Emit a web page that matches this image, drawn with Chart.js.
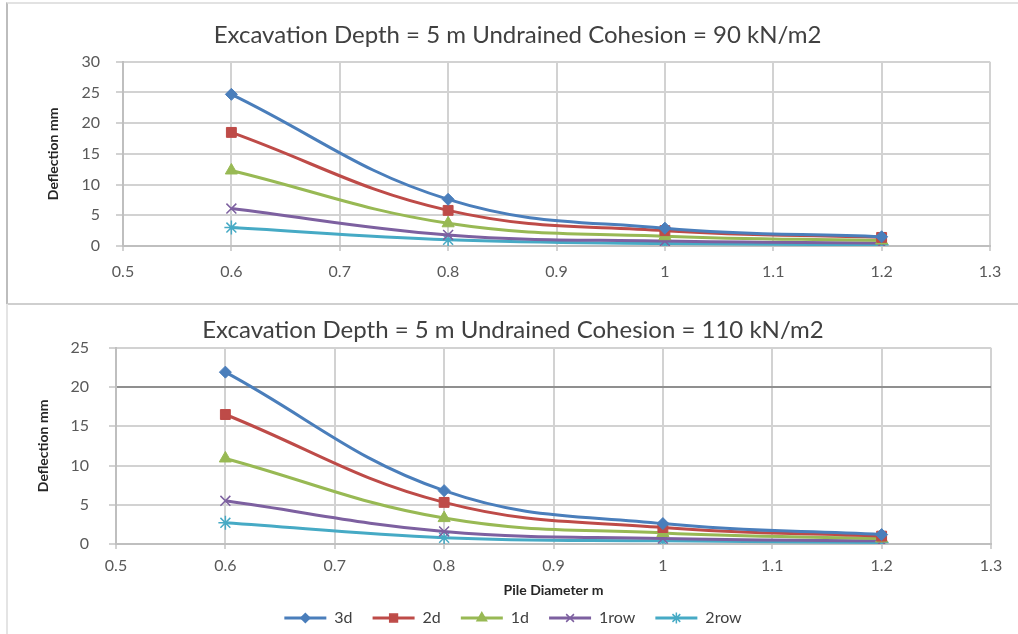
<!DOCTYPE html>
<html><head><meta charset="utf-8">
<script src="https://cdn.jsdelivr.net/npm/chart.js@4.4.0/dist/chart.umd.min.js"></script>
<style>
html,body{margin:0;padding:0;background:#fff;}
#wrap{position:relative;width:1018px;height:634px;overflow:hidden;background:#fff;}
#box1{position:absolute;left:6px;top:2px;width:1020px;height:299px;border-left:2px solid #bdbdbd;border-top:2px solid #e2e2e2;border-bottom:2px solid #cfcfcf;}
#box2{position:absolute;left:6px;top:304px;width:2px;height:330px;background:#e4e4e4;}
#c1{position:absolute;left:0;top:0;}
#c2{position:absolute;left:0;top:305px;}
</style></head>
<body><div id="wrap"><div id="box1"></div><div id="box2"></div>
<canvas id="c1" width="1018" height="302"></canvas>
<canvas id="c2" width="1018" height="331"></canvas>
</div>
<script>
// ---- data ----
const pileDiameter = [0.6, 0.8, 1.0, 1.2];
const seriesNames = ['3d', '2d', '1d', '1row', '2row'];
const xTickLabels = ['0.5', '0.6', '0.7', '0.8', '0.9', '1', '1.1', '1.2', '1.3'];
const yTicksTop = ['0', '5', '10', '15', '20', '25', '30'];
const yTicksBottom = ['0', '5', '10', '15', '20', '25'];
const titleTop = 'Excavation Depth = 5 m Undrained Cohesion = 90 kN/m2';
const titleBottom = 'Excavation Depth = 5 m Undrained Cohesion = 110 kN/m2';
const xAxisTitle = 'Pile Diameter m';
const yAxisTitle = 'Deflection mm';

// Cohesion 90 kN/m2
const c90_3d   = [24.7, 7.6, 2.9, 1.5];
const c90_2d   = [18.5, 5.8, 2.5, 1.4];
const c90_1d   = [12.3, 3.7, 1.6, 0.9];
const c90_1row = [6.1, 1.8, 0.8, 0.5];
const c90_2row = [3.0, 1.0, 0.4, 0.2];
// Cohesion 110 kN/m2
const c110_3d   = [21.9, 6.8, 2.6, 1.2];
const c110_2d   = [16.5, 5.3, 2.1, 1.0];
const c110_1d   = [10.9, 3.3, 1.4, 0.7];
const c110_1row = [5.5, 1.6, 0.7, 0.4];
const c110_2row = [2.7, 0.8, 0.4, 0.2];

// ---- styles ----
const colors = ['#4A7EBB', '#BE4B48', '#98B954', '#7D60A0', '#46AAC5'];
const pointStyles = ['rectRot', 'rect', 'triangle', 'crossRot', 'star'];
const pointRadii = [6, 7, 7, 7, 7];
const FONT = 'Lato, "Open Sans", sans-serif';
const GRID = '#d2d2d2';

function makeDatasets(arrs) {
  return arrs.map((vals, i) => ({
    label: seriesNames[i],
    data: vals.map((v, j) => ({x: pileDiameter[j], y: v})),
    borderColor: colors[i],
    backgroundColor: colors[i],
    pointBackgroundColor: colors[i],
    pointBorderColor: colors[i],
    pointStyle: pointStyles[i],
    pointRadius: pointRadii[i],
    pointBorderWidth: (i >= 3) ? 1.5 : 1,
    borderWidth: 3,
    tension: 0.4,
    fill: false
  }));
}

const legendMarkers = {
  id: 'legendMarkers',
  afterDraw(chart) {
    const lg = chart.legend;
    if (!lg || !lg.options.display || !lg.legendHitBoxes || !Chart.helpers) return;
    const ctx = chart.ctx;
    const bw = lg.options.labels.boxWidth;
    const fs = lg.options.labels.font.size;
    lg.legendHitBoxes.forEach((hb, i) => {
      const ds = chart.data.datasets[i];
      ctx.save();
      ctx.fillStyle = ds.pointBackgroundColor;
      ctx.strokeStyle = ds.pointBorderColor;
      ctx.lineWidth = 1.5;
      Chart.helpers.drawPoint(ctx, {pointStyle: ds.pointStyle, radius: ds.pointRadius - 1.5, rotation: 0, borderWidth: 1.5}, hb.left + bw / 2, hb.top + fs / 2);
      ctx.restore();
    });
  }
};

function makeChart(canvas, cfg) {
  return new Chart(canvas, {
    type: 'line',
    data: {datasets: makeDatasets(cfg.series)},
    plugins: [legendMarkers],
    options: {
      responsive: false,
      animation: false,
      devicePixelRatio: 1,
      layout: {padding: cfg.layoutPadding},
      plugins: {
        tooltip: {enabled: false},
        title: {
          display: true, text: cfg.title, color: '#404040',
          font: {family: FONT, size: 24, weight: 'normal'},
          padding: cfg.titlePadding
        },
        legend: {
          display: cfg.legend, position: 'bottom',
          labels: {
            boxWidth: 42, boxHeight: 3, padding: 20, color: '#404040',
            font: {family: FONT, size: 16},
            generateLabels(chart) {
              return Chart.defaults.plugins.legend.labels.generateLabels(chart).map(l => {
                l.lineWidth = 0; l.fillStyle = l.strokeStyle; return l;
              });
            }
          }
        }
      },
      scales: {
        x: {
          type: 'linear', min: 0.5, max: 1.3,
          ticks: {
            stepSize: 0.1, color: '#595959', padding: cfg.xTickPad,
            font: {family: FONT, size: 16},
            callback: (v, idx) => xTickLabels[idx]
          },
          grid: {color: GRID, lineWidth: 2, tickLength: 5, tickColor: GRID},
          border: {color: '#bfbfbf', width: 2},
          title: {
            display: cfg.xTitle, text: xAxisTitle, color: '#262626',
            font: {family: FONT, size: 14, weight: 'bold'}, padding: cfg.xTitlePad
          },
          afterFit: s => { s.height = cfg.xHeight; }
        },
        y: {
          min: 0, max: cfg.yMax,
          ticks: {
            stepSize: 5, color: '#595959', padding: cfg.yTickPad,
            font: {family: FONT, size: 16},
            callback: (v, idx) => cfg.yLabels[idx]
          },
          grid: {
            color: c => (cfg.darkTick !== undefined && c.tick && c.tick.value === cfg.darkTick) ? '#8f8f8f' : GRID,
            lineWidth: 2, tickLength: 7, tickColor: GRID
          },
          border: {color: '#bfbfbf', width: 2},
          title: {
            display: true, text: yAxisTitle, color: '#262626',
            font: {family: FONT, size: 14, weight: 'bold'}, padding: 0
          },
          afterFit: s => { s.width = cfg.yWidth; }
        }
      }
    }
  });
}

makeChart(document.getElementById('c1'), {
  series: [c90_3d, c90_2d, c90_1d, c90_1row, c90_2row],
  title: titleTop, titlePadding: {top: 21, bottom: 12},
  layoutPadding: {left: 45, right: 28, top: 0, bottom: 0},
  legend: false, xTitle: false, xHeight: 56, xTickPad: 11, xTitlePad: 0,
  yMax: 30, yLabels: yTicksTop, yWidth: 78, yTickPad: 16
});

makeChart(document.getElementById('c2'), {
  series: [c110_3d, c110_2d, c110_1d, c110_1row, c110_2row],
  title: titleBottom, titlePadding: {top: 11, bottom: 3},
  layoutPadding: {left: 35, right: 27, top: 0, bottom: 0},
  legend: true, xTitle: true, xHeight: 46, xTickPad: 7, xTitlePad: {top: 0, bottom: -9},
  yMax: 25, yLabels: yTicksBottom, yWidth: 81, yTickPad: 20, darkTick: 20
});
</script></body></html>
